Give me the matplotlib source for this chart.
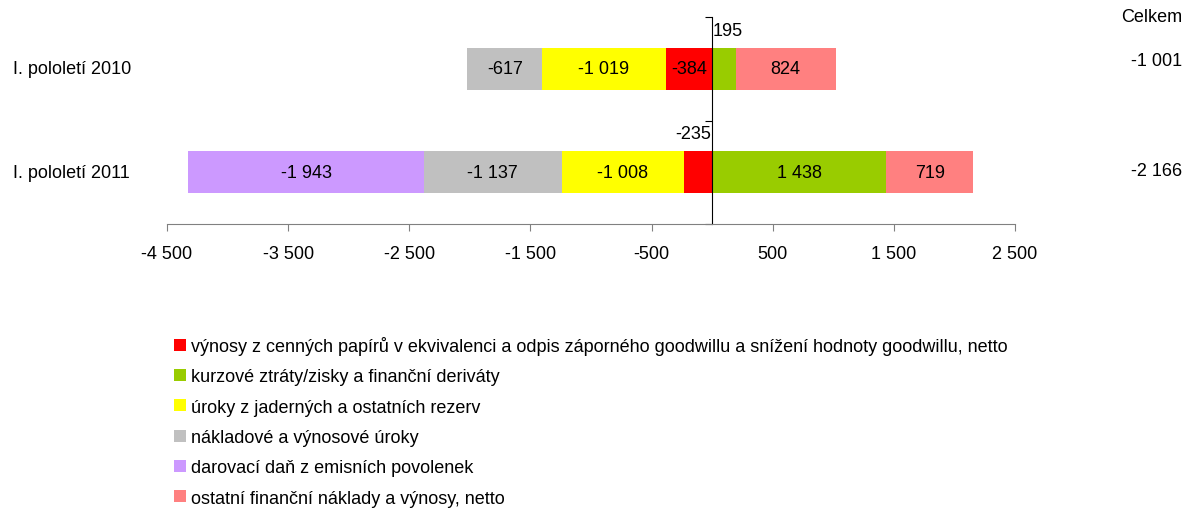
import matplotlib
matplotlib.use('Agg')

import matplotlib.pyplot as plt
import numpy as np

plt.rcParams['font.family'] = ['Liberation Sans', 'DejaVu Sans']
plt.rcParams['font.size'] = 13

categories = ['I. pololetí 2010', 'I. pololetí 2011']
series_names = ['výnosy z cenných papírů v ekvivalenci a odpis záporného goodwillu a snížení hodnoty goodwillu, netto',
                'kurzové ztráty/zisky a finanční deriváty',
                'úroky z jaderných a ostatních rezerv',
                'nákladové a výnosové úroky',
                'darovací daň z emisních povolenek',
                'ostatní finanční náklady a výnosy, netto']
vynosy_cp = [-384, -235]
kurzove = [195, 1438]
uroky_rezerv = [-1019, -1008]
urokove = [-617, -1137]
darovaci = [0, -1943]
ostatni = [824, 719]
celkem = [-1001, -2166]
xticks = [-4500, -3500, -2500, -1500, -500, 500, 1500, 2500]

colors = ['#FF0000', '#99CC00', '#FFFF00', '#C0C0C0', '#CC99FF', '#FF8080']
series = [vynosy_cp, kurzove, uroky_rezerv, urokove, darovaci, ostatni]

def fmt(v):
  return '{:,}'.format(int(v)).replace(',', ' ')

fig = plt.figure(figsize=(11.86, 5.10), dpi=100)
ax = fig.add_axes([167 / 1186, 1 - 225 / 510, 848 / 1186, 207 / 510])

y = np.array([1, 0])
pos_left = np.zeros(2)
neg_left = np.zeros(2)
handles = []
for name, vals, c in zip(series_names, series, colors):
  vals = np.array(vals, dtype=float)
  left = np.where(vals >= 0, pos_left, neg_left)
  b = ax.barh(y, vals, left=left, height=0.41, color=c, label=name)
  handles.append(b)
  for yi, v, l in zip(y, vals, left):
    if v == 0:
      continue
    if abs(v) >= 300:
      ax.text(l + v / 2, yi, fmt(v), ha='center', va='center')
    else:
      ax.text(2 if v > 0 else -8, yi + 0.37, fmt(v),
              ha='left' if v > 0 else 'right', va='center')
  pos_left = pos_left + np.where(vals >= 0, vals, 0)
  neg_left = neg_left + np.where(vals < 0, vals, 0)

ax.set_xlim(-4500, 2500)
ax.set_ylim(-0.5, 1.5)
ax.set_xticks(xticks)
ax.set_xticklabels([fmt(t) for t in xticks])
ax.set_yticks([-0.5, 0.5, 1.5])
ax.set_yticklabels([])
ax.spines['top'].set_visible(False)
ax.spines['right'].set_visible(False)
ax.spines['left'].set_position(('data', 0))
ax.spines['left'].set_color('black')
ax.spines['bottom'].set_color('#808080')
ax.tick_params(axis='x', colors='#808080', length=5, pad=10, labelcolor='black')
ax.tick_params(axis='y', length=5, direction='out')

for yi, cat in zip(y, categories):
  yf = 1 - (18 + (1.5 - yi) * 103.5) / 510
  fig.text(13 / 1186, yf, cat, ha='left', va='center')

fig.text(1182 / 1186, 1 - 18 / 510, 'Celkem', ha='right', va='center')
for yf_px, v in zip([62, 172], celkem):
  fig.text(1182 / 1186, 1 - yf_px / 510, fmt(v), ha='right', va='center')

fig.legend(handles=handles, loc='upper left', bbox_to_anchor=(174 / 1186, 1 - 337 / 510),
           frameon=False, handlelength=0.65, handleheight=0.65, handletextpad=0.3,
           labelspacing=0.74, fontsize=13, borderaxespad=0, borderpad=0)

plt.savefig('out.png', dpi=100)
plt.close()
